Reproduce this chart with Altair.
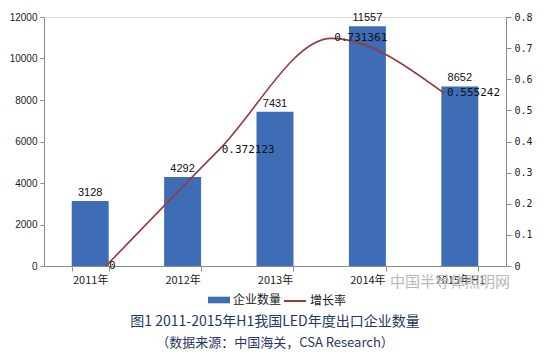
import altair as alt
import pandas as pd

years = ["2011年", "2012年", "2013年", "2014年", "2015年H1"]
counts = [3128, 4292, 7431, 11557, 8652]
growth_keys = ["g1", "g2", "g3", "g4"]
growth = [0, 0.372123, 0.731361, 0.555242]
growth_labels = ["0", "0.372123", "0.731361", "0.555242"]
rate_ticks = [0, 0.1, 0.2, 0.3, 0.4, 0.5, 0.6, 0.7, 0.8]

bar_df = pd.DataFrame({"year": years, "count": counts, "series": ["企业数量"] * 5})
line_df = pd.DataFrame({"key": growth_keys, "rate": growth, "label": growth_labels,
                        "series": ["增长率"] * 4})

BLUE = "#3E6DB5"
RED = "#963C3C"
AX = "#8c8c8c"
CJK = "Noto Sans CJK SC"

xb = alt.X("year:N", sort=years, title=None,
           scale=alt.Scale(paddingInner=0.6, paddingOuter=0.3),
           axis=alt.Axis(tickBand="extent", labelAngle=0, domainColor=AX, tickColor=AX,
                         tickSize=5, labelFont=CJK, labelFontSize=11, labelColor="#222",
                         labelPadding=3))
yb = alt.Y("count:Q", title=None,
           scale=alt.Scale(domain=[0, 12000], nice=False),
           axis=alt.Axis(values=[0, 2000, 4000, 6000, 8000, 10000, 12000], format="d",
                         grid=False, domainColor=AX, tickColor=AX, tickSize=4,
                         labelFont="Liberation Sans", labelFontSize=10, labelColor="#222",
                         labelPadding=3, labelOverlap=False))

bars = alt.Chart(bar_df).mark_bar().encode(
    x=xb, y=yb,
    color=alt.Color("series:N", scale=alt.Scale(domain=["企业数量"], range=[BLUE]),
                    legend=alt.Legend(title=None, orient="none", legendX=164, legendY=272,
                                      symbolType="M-1,-0.3H1V0.3H-1Z", symbolSize=484,
                                      symbolStrokeWidth=0, labelFont=CJK, labelFontSize=12,
                                      labelColor="#222", labelOffset=3)),
)
bar_text = alt.Chart(bar_df).mark_text(baseline="bottom", dy=-3, font="Liberation Sans",
                                       fontSize=11, color="#111").encode(
    x=xb, y=yb, text="count:Q")
bar_layer = alt.layer(bars, bar_text)

xl = alt.X("key:N", sort=growth_keys, title=None,
           scale=alt.Scale(type="point", padding=0.55), axis=None)
yl = alt.Y("rate:Q", title=None, scale=alt.Scale(domain=[0, 0.8], nice=False),
           axis=alt.Axis(orient="right", values=rate_ticks, tickCount=9,
                         labelExpr="datum.value == 0 ? '0' : format(datum.value, '.1f')",
                         grid=False, domainColor=AX, tickColor=AX, tickSize=5,
                         labelFont="DejaVu Sans Mono", labelFontSize=10, labelColor="#222",
                         labelPadding=3, labelOverlap=False))
line = alt.Chart(line_df).mark_line(interpolate="monotone", strokeWidth=1.6).encode(
    x=xl, y=yl,
    stroke=alt.Stroke("series:N", scale=alt.Scale(domain=["增长率"], range=[RED]),
                      legend=alt.Legend(title=None, orient="none", legendX=239, legendY=272,
                                        symbolType="stroke", symbolSize=484,
                                        symbolStrokeWidth=2, labelFont=CJK, labelFontSize=12,
                                        labelColor="#222", labelOffset=3)),
)
line_text = alt.Chart(line_df).mark_text(align="left", baseline="middle", dx=3,
                                         font="DejaVu Sans Mono", fontSize=11,
                                         color="#111").encode(
    x=xl, y=yl, text="label:N")
line_layer = alt.layer(line, line_text)

watermark = alt.Chart(pd.DataFrame({"t": ["中国半导体照明网"]})).mark_text(
    align="left", baseline="middle", font=CJK, fontSize=15, color="#b8b8b8").encode(
    x=alt.value(346), y=alt.value(265), text="t:N")

chart = alt.layer(bar_layer, line_layer, watermark).resolve_scale(
    x="independent", y="independent", color="independent", stroke="independent"
).properties(
    width=462, height=249,
    padding={"left": 36, "top": 9, "right": 36, "bottom": 85},
    autosize=alt.AutoSizeParams(type="none"),
    title=alt.TitleParams(
        text="图1 2011-2015年H1我国LED年度出口企业数量",
        subtitle="（数据来源：中国海关，CSA Research）",
        orient="bottom", anchor="middle", offset=8,
        font=CJK, fontSize=14, fontWeight="normal", color="#1F3864",
        subtitleFont=CJK, subtitleFontSize=13, subtitleColor="#1F3864",
        subtitlePadding=8),
).configure_view(stroke=None).configure(background="white")

chart.save("out.html", embed_options={"renderer": "svg", "actions": False})
